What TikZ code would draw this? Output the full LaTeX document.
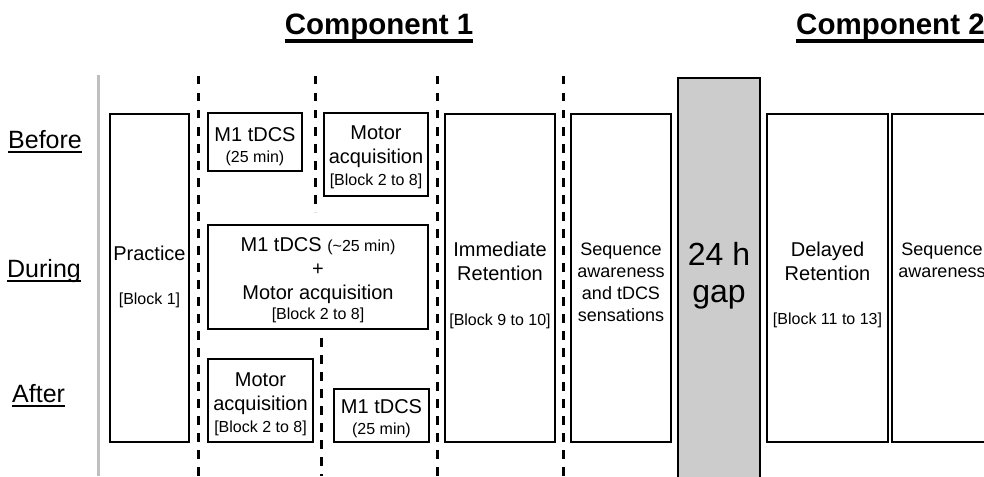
\documentclass[tikz,border=0pt]{standalone}
\usepackage{fontspec}
\setmainfont{Liberation Sans}
\usetikzlibrary{positioning}

\newcommand{\sm}[1]{{\fontsize{16}{24}\selectfont #1}}

\begin{document}
\begin{tikzpicture}[
  x=1pt, y=-1pt,
  box/.style={draw, line width=1.8pt, inner sep=0pt},
  gapbox/.style={box, fill=gray!40, line width=2pt},
  txt/.style={align=center, inner sep=0pt, anchor=north, font=\fontsize{20}{24}\selectfont},
  smtxt/.style={txt, font=\fontsize{18}{22}\selectfont},
  rowlbl/.style={anchor=base west, inner sep=0pt, font=\fontsize{25}{30}\selectfont},
  head/.style={anchor=base, inner sep=0pt, font=\bfseries\fontsize{29.5}{34}\selectfont},
  sep/.style={line width=3pt, dash pattern=on 8.5pt off 8.5pt},
  uline/.style={line width=2pt}
]
\useasboundingbox (0,0) rectangle (984,476);

% headings
\node[head] (comp1) at (379,35) {Component 1};
\node[head, anchor=base west] (comp2) at (796,35) {Component 2};
\draw[uline, line width=3.2pt] ([yshift=-6pt]comp1.base west) -- ([yshift=-6pt]comp1.base east);
\draw[uline, line width=3.2pt] ([yshift=-6pt]comp2.base west) -- ([yshift=-6pt]comp2.base east);

% row labels
\node[rowlbl] (before) at (8,148) {Before};
\node[rowlbl] (during) at (7,277) {During};
\node[rowlbl] (after) at (12,402) {After};
\draw[uline] ([yshift=-4pt]before.base west) -- ([yshift=-4pt]before.base east);
\draw[uline] ([yshift=-4pt]during.base west) -- ([yshift=-4pt]during.base east);
\draw[uline] ([yshift=-4pt]after.base west) -- ([yshift=-4pt]after.base east);

% time axis and separators
\draw[line width=3pt, gray!50] (98,75) -- (98,476);
\draw[sep] (198,76) -- (198,476);
\draw[sep] (315,76) -- (315,212);
\draw[sep] (321,338) -- (321,476);
\draw[sep] (437,76) -- (437,476);
\draw[sep] (563,76) -- (563,476);

% boxes
\node[box, minimum width=79pt, minimum height=328pt] (practice) at (149.5,278) {};
\node[box, minimum width=94pt, minimum height=58pt] (tdcsA) at (255,142) {};
\node[box, minimum width=104pt, minimum height=83pt] (motorA) at (376,154.5) {};
\node[box, minimum width=220pt, minimum height=104pt] (both) at (318,277) {};
\node[box, minimum width=105pt, minimum height=83pt] (motorC) at (260.5,400.5) {};
\node[box, minimum width=95pt, minimum height=53pt] (tdcsC) at (381.5,415.5) {};
\node[box, minimum width=110pt, minimum height=328pt] (immed) at (500,278) {};
\node[box, minimum width=100pt, minimum height=328pt] (aware) at (621,278) {};
\node[gapbox, minimum width=82pt, minimum height=412pt] (gap) at (719,284) {};
\node[box, minimum width=121pt, minimum height=328pt] (delayed) at (827.5,278) {};
\node[box, minimum width=100pt, minimum height=328pt] (awareB) at (942,278) {};

% box texts
\node[txt] (practiceT) at (149.5,246) {Practice\\[20pt]\sm{[Block 1]}};
\node[txt] (tdcsAT) at (255,127) {M1 tDCS\\[-3pt]\sm{(25 min)}};
\node[txt] (motorAT) at (376,126) {Motor\\acquisition\\[-2pt]\sm{[Block 2 to 8]}};
\node[txt] (bothT) at (318,237) {M1 tDCS \sm{(\textasciitilde25 min)}\\+\\Motor acquisition\\[-4pt]\sm{[Block 2 to 8]}};
\node[txt] (motorCT) at (260.5,373) {Motor\\acquisition\\[-2pt]\sm{[Block 2 to 8]}};
\node[txt] (tdcsCT) at (381.5,399) {M1 tDCS\\[-3pt]\sm{(25 min)}};
\node[txt] (immedT) at (500,242) {Immediate\\Retention\\[21pt]\sm{[Block 9 to 10]}};
\node[smtxt] (awareT) at (621,243) {Sequence\\awareness\\and tDCS\\sensations};
\node[txt, font=\fontsize{32}{37}\selectfont] (gapT) at (719,242) {24 h\\gap};
\node[txt] (delayedT) at (827.5,242) {Delayed\\Retention\\[20pt]\sm{[Block 11 to 13]}};
\node[smtxt] (awareBT) at (942,243) {Sequence\\awareness};
\end{tikzpicture}
\end{document}
